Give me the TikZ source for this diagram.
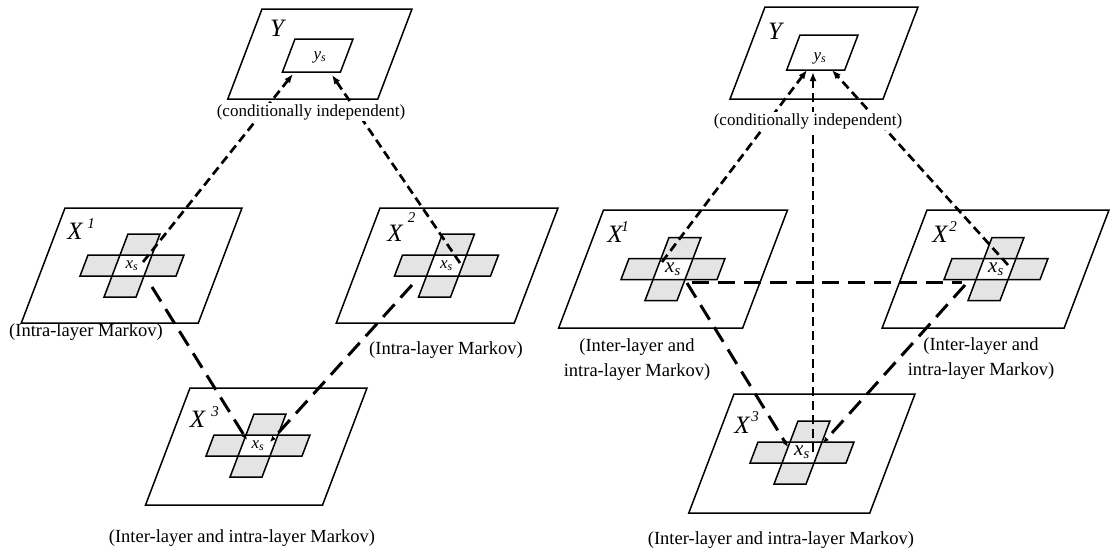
\documentclass[tikz,border=0pt]{standalone}
\usepackage{fontspec}
\setmainfont{Liberation Serif}
\usetikzlibrary{arrows.meta}
\definecolor{crossgray}{RGB}{228,228,228}
\tikzset{
  planeline/.style={line width=1.5pt, line join=miter},
  crossline/.style={line width=1.5pt},
  crossfill/.style={fill=crossgray},
  shortdash/.style={line width=2.7pt, dash pattern=on 9pt off 5pt},
  longdash/.style={line width=3pt, dash pattern=on 17pt off 9pt},
  toys/.style={-{Latex[length=9pt,width=7pt]}},
  tox/.style={-{Latex[length=6pt,width=5pt]}},
  lbl/.style={font=\fontsize{18.5}{25}\selectfont, inner sep=1pt, align=center},
  cilbl/.style={font=\fontsize{17}{22}\selectfont, inner sep=1pt, fill=white},
  biglbl/.style={font=\fontsize{25}{28}\selectfont\itshape, inner sep=0pt},
  suplbl/.style={font=\fontsize{15}{17}\selectfont\itshape, inner sep=0pt},
  xslbl/.style={font=\fontsize{17}{19}\selectfont, inner sep=0pt},
  xsbig/.style={font=\fontsize{21}{23}\selectfont, inner sep=0pt},
}
\newcommand\drawplane[4]{%
  \draw[planeline] (#1,#2) -- ++(#3,0) -- ++({-0.38*#4},#4) -- ++(-#3,0) -- cycle;}
\newcommand\drawcross[2]{%
  \fill[crossfill] ({#1-32},#2) -- ++(96,0) -- ++(-7.98,21) -- ++(-96,0) -- cycle;
  \fill[crossfill] ({#1+7.98},{#2-21}) -- ++(32,0) -- ++(-23.94,63) -- ++(-32,0) -- cycle;
  \fill[white] (#1,#2) -- ++(32,0) -- ++(-7.98,21) -- ++(-32,0) -- cycle;
  \draw[crossline] ({#1-32},#2) -- ++(96,0) -- ++(-7.98,21) -- ++(-96,0) -- cycle;
  \draw[crossline] ({#1+7.98},{#2-21}) -- ++(32,0) -- ++(-23.94,63) -- ++(-32,0) -- cycle;}
\begin{document}
\begin{tikzpicture}[x=1pt,y=-1pt]
\useasboundingbox (0,0) rectangle (1111,558);
% ---------------- left diagram ----------------
\drawplane{262}{9}{150}{90}
\drawplane{295}{39}{58}{33}
\drawplane{65}{208}{177}{115}
\drawplane{380}{208}{178}{115}
\drawplane{190}{388}{177}{117}
\drawcross{120}{255}
\drawcross{434.5}{255}
\drawcross{246}{435}
% ---------------- right diagram ----------------
\drawplane{765}{7}{153}{92}
\drawplane{800}{35}{58}{35}
\drawplane{603.5}{210}{184}{118}
\drawplane{927}{210}{182}{118}
\drawplane{734}{394}{181}{119}
\drawcross{661}{258.5}
\drawcross{984}{258.5}
\drawcross{790}{442}
% ---------------- connector end points ----------------
\coordinate (LysA) at (293,74);
\coordinate (LysB) at (332,75);
\coordinate (Lx1up) at (143,262);
\coordinate (Lx2up) at (460,263);
\coordinate (Lx1dn) at (152,287);
\coordinate (Lx2dn) at (412,285);
\coordinate (Lx3a) at (247,440);
\coordinate (Lx3b) at (270,442);
\coordinate (RysA) at (807,70);
\coordinate (RysB) at (832,70);
\coordinate (RysC) at (813,72);
\coordinate (Rx1up) at (662,262);
\coordinate (Rx2up) at (1008,265);
\coordinate (Rx3up) at (813,452);
\coordinate (Rx1h) at (692,282);
\coordinate (Rx2h) at (962,282);
\coordinate (Rx1dn) at (687,283);
\coordinate (Rx2dn) at (965,285);
\coordinate (Rx3a) at (788,447);
\coordinate (Rx3b) at (823,443);
% ---------------- connectors ----------------
\draw[shortdash,toys] (Lx1up) -- (LysA);
\draw[shortdash,toys] (Lx2up) -- (LysB);
\draw[longdash,tox] (Lx1dn) -- (Lx3a);
\draw[longdash,tox] (Lx2dn) -- (Lx3b);
\draw[shortdash,toys] (Rx1up) -- (RysA);
\draw[shortdash,toys] (Rx2up) -- (RysB);
\draw[shortdash,toys] (Rx3up) -- (RysC);
\draw[longdash] (Rx1h) -- (Rx2h);
\draw[longdash,tox] (Rx1dn) -- (Rx3a);
\draw[longdash,tox] (Rx2dn) -- (Rx3b);
% ---------------- labels left ----------------
\node[biglbl] (LY) at (277,28) {Y};
\node[xslbl] (Lys) at (320,57) {\textit{y}\textsubscript{\textit{s}}};
\node[cilbl] (Lci) at (311,112) {(conditionally independent)};
\node[biglbl] (LX1) at (75,231) {X};
\node[suplbl] (LX1s) at (91,224) {1};
\node[biglbl] (LX2) at (395,233) {X};
\node[suplbl] (LX2s) at (411.5,218) {2};
\node[biglbl] (LX3) at (197.5,419) {X};
\node[suplbl] (LX3s) at (215,412) {3};
\node[xslbl] (Lxs1) at (132,265.5) {\textit{x}\textsubscript{\textit{s}}};
\node[xslbl] (Lxs2) at (446.5,265.5) {\textit{x}\textsubscript{\textit{s}}};
\node[xslbl] (Lxs3) at (258,445.5) {\textit{x}\textsubscript{\textit{s}}};
\node[lbl] (Lm1) at (86,332) {(Intra-layer Markov)};
\node[lbl] (Lm2) at (446,350) {(Intra-layer Markov)};
\node[lbl] (Lm3) at (242,538) {(Inter-layer and intra-layer Markov)};
% ---------------- labels right ----------------
\node[biglbl] (RY) at (775,31) {Y};
\node[xslbl] (Rys) at (820,58) {\textit{y}\textsubscript{\textit{s}}};
\node[cilbl] (Rci) at (808,121) {(conditionally independent)};
\node[biglbl] (RX1) at (615,234) {X};
\node[suplbl] (RX1s) at (625,227) {1};
\node[biglbl] (RX2) at (940,234) {X};
\node[suplbl] (RX2s) at (953,227) {2};
\node[biglbl] (RX3) at (742,425) {X};
\node[suplbl] (RX3s) at (755,417) {3};
\node[xsbig] (Rxs1) at (673,269) {\textit{x}\textsubscript{\textit{s}}};
\node[xsbig] (Rxs2) at (996,269) {\textit{x}\textsubscript{\textit{s}}};
\node[xsbig] (Rxs3) at (802,452.5) {\textit{x}\textsubscript{\textit{s}}};
\node[lbl] (Rm1) at (637,359.5) {(Inter-layer and\\intra-layer Markov)};
\node[lbl] (Rm2) at (981,359) {(Inter-layer and\\intra-layer Markov)};
\node[lbl] (Rm3) at (781,540) {(Inter-layer and intra-layer Markov)};
\end{tikzpicture}
\end{document}
